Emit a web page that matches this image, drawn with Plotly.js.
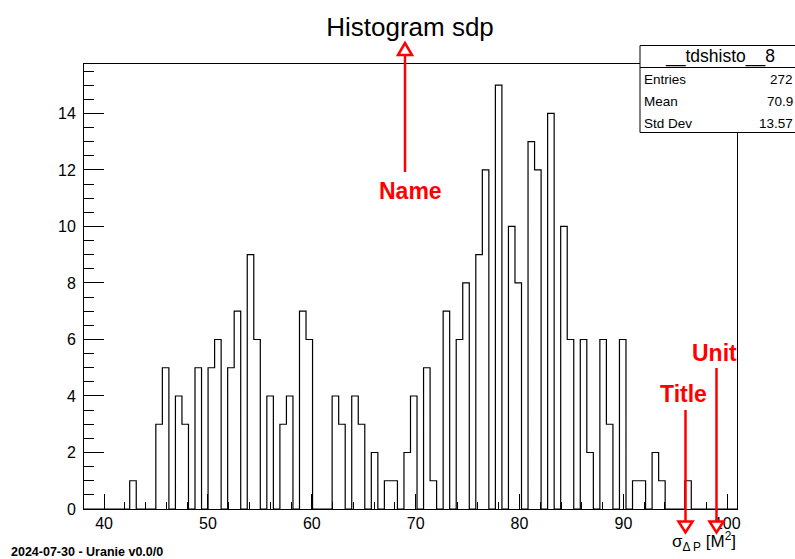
<!DOCTYPE html>
<html>
<head>
<meta charset="utf-8">
<script src="https://cdn.plot.ly/plotly-3.0.1.min.js"></script>
<style>html,body{margin:0;padding:0;background:#fff;}#chart{width:795px;height:559px;}</style>
</head>
<body>
<div id="chart"></div>
<script>
// ---- data ----
const histName = "__tdshisto__8";
const histMin = 38.07;
const histMax = 100.94;
const binCounts = [
  0,0,0,0,0,0,0,1,0,0,
  0,3,5,0,4,3,0,5,0,5,
  6,0,5,7,0,9,6,0,4,0,
  3,4,0,7,6,0,0,0,4,3,
  0,4,3,0,2,0,1,1,0,2,
  4,0,5,1,0,7,0,6,8,0,
  9,12,0,15,0,10,8,0,13,12,
  0,14,0,10,6,0,6,2,0,6,
  3,0,6,0,1,1,0,2,1,0,
  0,0,1,0,0,0,0,0,0,0
];
const xTickVals = [40, 50, 60, 70, 80, 90, 100];
const yTickVals = [0, 2, 4, 6, 8, 10, 12, 14];
const statLabels = ["Entries", "Mean", "Std Dev"];
const statValues = ["272", "70.9", "13.57"];

// ---- build step outline (ROOT-style histogram) ----
const nBins = binCounts.length;
const binW = (histMax - histMin) / nBins;
const stepX = [], stepY = [];
for (let i = 0; i < nBins; i++) { stepX.push(histMin + i * binW); stepY.push(binCounts[i]); }
stepX.push(histMax); stepY.push(binCounts[nBins - 1]);
const yMax = 1.05 * Math.max(...binCounts);

// ---- layout geometry helpers (pixel -> paper) ----
const W = 795, H = 559;
const M = {l: 84, r: 58, t: 64, b: 50};
const PW = W - M.l - M.r, PH = H - M.t - M.b;
const px = x => (x - M.l) / PW;
const py = y => (H - M.b - y) / PH;

const FONT = "Liberation Sans, Arial, Helvetica, sans-serif";
const RED = "#ff0000";

const shapes = [];
const annotations = [];

// stats box
shapes.push({type: "rect", xref: "paper", yref: "paper", x0: px(640), x1: px(800), y0: py(45.5), y1: py(132.5),
  line: {color: "#000", width: 1}, fillcolor: "#fff", layer: "above"});
shapes.push({type: "line", xref: "paper", yref: "paper", x0: px(640), x1: px(800), y0: py(67.5), y1: py(67.5),
  line: {color: "#000", width: 1}, layer: "above"});
annotations.push({xref: "paper", yref: "paper", x: px(720), y: py(56.5), text: histName, showarrow: false,
  xanchor: "center", yanchor: "middle", font: {family: FONT, size: 17.5, color: "#000"}});
statLabels.forEach((lab, i) => {
  const yy = 80 + i * 21.8;
  annotations.push({xref: "paper", yref: "paper", x: px(642), y: py(yy), text: lab, showarrow: false,
    xanchor: "left", yanchor: "middle", font: {family: FONT, size: 13.5, color: "#000"}});
  annotations.push({xref: "paper", yref: "paper", x: px(795), y: py(yy), text: statValues[i], showarrow: false,
    xanchor: "right", yanchor: "middle", font: {family: FONT, size: 13.5, color: "#000"}});
});

// red arrows with open triangle heads
function arrow(x, yFrom, yBase, yTip) {
  shapes.push({type: "line", xref: "paper", yref: "paper", x0: px(x), x1: px(x), y0: py(yFrom), y1: py(yBase),
    line: {color: RED, width: 2.5}, layer: "above"});
  const p = `M ${px(x - 7)} ${py(yBase)} L ${px(x + 7)} ${py(yBase)} L ${px(x)} ${py(yTip)} Z`;
  shapes.push({type: "path", xref: "paper", yref: "paper", path: p, line: {color: RED, width: 2.5},
    fillcolor: "#fff", layer: "above"});
}
arrow(405, 172, 55, 43);
arrow(685.5, 410, 521.5, 532.5);
arrow(716.5, 368, 521.5, 532.5);

function redLabel(text, x, y) {
  annotations.push({xref: "paper", yref: "paper", x: px(x), y: py(y), text: "<b>" + text + "</b>", showarrow: false,
    xanchor: "center", yanchor: "middle", font: {family: FONT, size: 23, color: RED}});
}
redLabel("Name", 410, 191);
redLabel("Title", 683, 394);
redLabel("Unit", 714, 353);

// x-axis title (ROOT style, right aligned)
annotations.push({xref: "paper", yref: "paper", x: px(738), y: py(541), showarrow: false,
  xanchor: "right", yanchor: "middle",
  text: "σ<sub>Δ P</sub> [M<sup>2</sup>]", font: {family: FONT, size: 17, color: "#000"}});

// date stamp
annotations.push({xref: "paper", yref: "paper", x: px(9), y: py(551.5), showarrow: false,
  xanchor: "left", yanchor: "middle", text: "<b>2024-07-30 - Uranie v0.0/0</b>",
  font: {family: FONT, size: 12.5, color: "#000"}});

const trace = {
  type: "scatter", mode: "lines", x: stepX, y: stepY,
  line: {shape: "hv", color: "#000", width: 1.2}, hoverinfo: "skip", showlegend: false
};

const layout = {
  width: W, height: H, margin: M,
  paper_bgcolor: "#fff", plot_bgcolor: "#fff",
  showlegend: false,
  title: {text: "Histogram sdp", font: {family: FONT, size: 26, color: "#000"},
    x: 410 / W, xanchor: "center", xref: "container", yref: "container", y: (H - 27) / H, yanchor: "middle"},
  xaxis: {
    range: [histMin, histMax], tickmode: "array", tickvals: xTickVals, ticktext: xTickVals.map(String),
    ticks: "inside", ticklen: 15, tickwidth: 1, tickcolor: "#000",
    minor: {dtick: 2, tick0: 40, ticks: "inside", ticklen: 7, tickwidth: 1, tickcolor: "#000", showgrid: false},
    showline: true, linecolor: "#000", linewidth: 1, mirror: true,
    showgrid: false, zeroline: false,
    tickfont: {family: FONT, size: 16, color: "#000"}, ticklabelstandoff: 0
  },
  yaxis: {
    range: [0, yMax], tickmode: "array", tickvals: yTickVals, ticktext: yTickVals.map(String),
    ticks: "inside", ticklen: 20, tickwidth: 1, tickcolor: "#000",
    minor: {dtick: 0.5, tick0: 0, ticks: "inside", ticklen: 10, tickwidth: 1, tickcolor: "#000", showgrid: false},
    showline: true, linecolor: "#000", linewidth: 1, mirror: true,
    showgrid: false, zeroline: false,
    tickfont: {family: FONT, size: 16, color: "#000"}, ticklabelstandoff: 4
  },
  shapes: shapes,
  annotations: annotations
};

Plotly.newPlot("chart", [trace], layout, {staticPlot: true, displayModeBar: false});
</script>
</body>
</html>
